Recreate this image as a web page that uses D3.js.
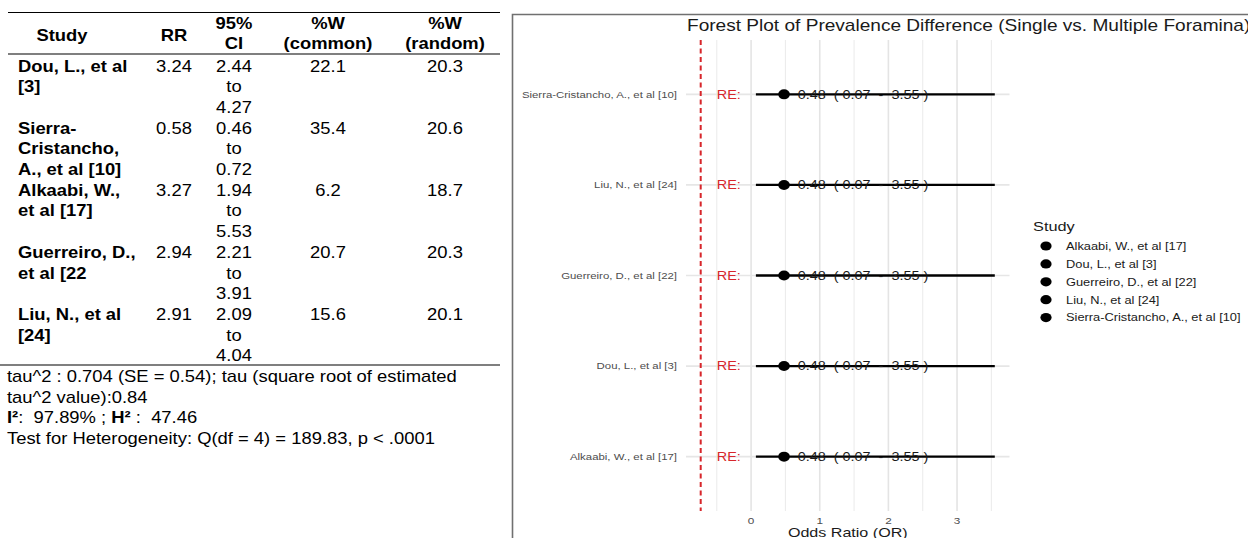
<!DOCTYPE html>
<html>
<head>
<meta charset="utf-8">
<script src="https://cdn.jsdelivr.net/npm/d3@7"></script>
<style>
  html, body { margin: 0; padding: 0; background: #fff; }
  svg { display: block; }
  text { font-family: "Liberation Sans", Arial, Helvetica, sans-serif; white-space: pre; }
</style>
</head>
<body>
<svg id="chart" width="1248" height="538"></svg>
<script>
// ---- Study table ----
const studyLines = [
  ["Dou, L., et al", "[3]"],
  ["Sierra-", "Cristancho,", "A., et al [10]"],
  ["Alkaabi, W.,", "et al [17]"],
  ["Guerreiro, D.,", "et al [22"],
  ["Liu, N., et al", "[24]"]
];
const rr = [3.24, 0.58, 3.27, 2.94, 2.91];
const ciLow = [2.44, 0.46, 1.94, 2.21, 2.09];
const ciHigh = [4.27, 0.72, 5.53, 3.91, 4.04];
const weightCommon = [22.1, 35.4, 6.2, 20.7, 15.6];
const weightRandom = [20.3, 20.6, 18.7, 20.3, 20.1];

// ---- Heterogeneity summary ----
const tau2 = 0.704, tau2SE = 0.54, tau = 0.84;
const i2 = 97.89, h2 = 47.46;
const qDf = 4, qStat = 189.83, qP = ".0001";

// ---- Forest plot (random-effects pooled estimate per study row) ----
const plotStudies = [
  "Alkaabi, W., et al [17]",
  "Dou, L., et al [3]",
  "Guerreiro, D., et al [22]",
  "Liu, N., et al [24]",
  "Sierra-Cristancho, A., et al [10]"
];
const reEstimate = [0.48, 0.48, 0.48, 0.48, 0.48];
const reLower = [0.07, 0.07, 0.07, 0.07, 0.07];
const reUpper = [3.55, 3.55, 3.55, 3.55, 3.55];
const xTicks = [0, 1, 2, 3];
const pooledOR = 0.48;

const svg = d3.select("#chart");
const f2 = d3.format(".2f");

// text helper with horizontal stretch around its anchor point
function label(g, x, y, str, o = {}) {
  return g.append("text")
    .attr("transform", `translate(${x},${y}) scale(${o.sx || 1},1)`)
    .attr("text-anchor", o.anchor || "start")
    .attr("font-size", o.size || 15)
    .attr("font-weight", o.weight || "normal")
    .attr("fill", o.fill || "#000")
    .text(str);
}

// ================= Table =================
const T = svg.append("g");
const tsx = 1.15, tfs = 16;
const col = { study: 18, rr: 174, ci: 234, wc: 328, wr: 445 };

T.append("line").attr("x1", 8).attr("x2", 500).attr("y1", 12.5).attr("y2", 12.5).attr("stroke", "#000").attr("stroke-width", 1.2);
T.append("line").attr("x1", 8).attr("x2", 500).attr("y1", 54).attr("y2", 54).attr("stroke", "#000").attr("stroke-width", 1.2);

const hb = { sx: tsx, size: tfs, weight: "bold", anchor: "middle" };
label(T, 62, 40.5, "Study", hb);
label(T, col.rr, 40.5, "RR", hb);
label(T, col.ci, 28.5, "95%", hb);
label(T, col.ci, 48.5, "CI", hb);
label(T, col.wc, 28.5, "%W", hb);
label(T, col.wc, 48.5, "(common)", hb);
label(T, col.wr, 28.5, "%W", hb);
label(T, col.wr, 48.5, "(random)", hb);

const lineH = 20.67, firstBase = 71.8;
studyLines.forEach((lines, i) => {
  const y0 = firstBase + i * 3 * lineH;
  lines.forEach((s, j) => label(T, col.study, y0 + j * lineH, s, { sx: tsx, size: tfs, weight: "bold" }));
  const c = { sx: tsx, size: tfs, anchor: "middle" };
  label(T, col.rr, y0, f2(rr[i]), c);
  label(T, col.ci, y0, f2(ciLow[i]), c);
  label(T, col.ci, y0 + lineH, "to", c);
  label(T, col.ci, y0 + 2 * lineH, f2(ciHigh[i]), c);
  label(T, col.wc, y0, weightCommon[i].toFixed(1), c);
  label(T, col.wr, y0, weightRandom[i].toFixed(1), c);
});

T.append("line").attr("x1", 0).attr("x2", 500).attr("y1", 365).attr("y2", 365).attr("stroke", "#000").attr("stroke-width", 1.2);

const fo = { sx: tsx, size: tfs };
label(T, 7, 382, `tau^2 : ${tau2} (SE = ${tau2SE}); tau (square root of estimated`, fo);
label(T, 7, 402.5, `tau^2 value):${tau}`, fo);
const iLine = label(T, 7, 423, "", fo);
iLine.append("tspan").attr("font-weight", "bold").text("I²");
iLine.append("tspan").text(`:  ${i2}% ; `);
iLine.append("tspan").attr("font-weight", "bold").text("H²");
iLine.append("tspan").text(` :  ${h2}`);
label(T, 7, 444, `Test for Heterogeneity: Q(df = ${qDf}) = ${qStat}, p < ${qP}`, fo);

// ================= Forest plot =================
const P = svg.append("g");
const psx = 1.2;

// frame around the plot image
P.append("path")
  .attr("d", "M512.5,545 V14.5 H1260")
  .attr("fill", "none").attr("stroke", "#707070").attr("stroke-width", 1.6);

const lo = Math.min(Math.log(pooledOR), d3.min(reLower));
const hi = d3.max(reUpper);
const pad = (hi - lo) * 0.05;
const x = d3.scaleLinear().domain([lo - pad, hi + pad]).range([686, 1009.5]);
const yTop = 40, yBot = 511;
const y = d3.scalePoint().domain(plotStudies).range([yBot, yTop]).padding(0.6);

// grid
const minor = d3.range(Math.ceil((lo - pad) * 2) / 2, hi + pad, 0.5).filter(v => !Number.isInteger(v));
P.append("g").selectAll("line").data(minor).join("line")
  .attr("x1", d => x(d)).attr("x2", d => x(d)).attr("y1", yTop).attr("y2", yBot)
  .attr("stroke", "#ececec").attr("stroke-width", 1.1);
P.append("g").selectAll("line").data(xTicks).join("line")
  .attr("x1", d => x(d)).attr("x2", d => x(d)).attr("y1", yTop).attr("y2", yBot)
  .attr("stroke", "#e4e4e4").attr("stroke-width", 1.6);
P.append("g").selectAll("line").data(plotStudies).join("line")
  .attr("x1", x.range()[0]).attr("x2", x.range()[1]).attr("y1", d => y(d)).attr("y2", d => y(d))
  .attr("stroke", "#e6e6e6").attr("stroke-width", 1.6);

// pooled estimate reference (log scale)
P.append("line")
  .attr("x1", x(Math.log(pooledOR))).attr("x2", x(Math.log(pooledOR)))
  .attr("y1", yTop).attr("y2", yBot)
  .attr("stroke", "#d7262b").attr("stroke-width", 2).attr("stroke-dasharray", "5,3.5");

// rows
const rows = P.append("g").selectAll("g").data(plotStudies).join("g");
rows.append("line")
  .attr("x1", (d, i) => x(reLower[i])).attr("x2", (d, i) => x(reUpper[i]))
  .attr("y1", d => y(d)).attr("y2", d => y(d))
  .attr("stroke", "#000").attr("stroke-width", 2.3);
rows.append("ellipse")
  .attr("cx", (d, i) => x(reEstimate[i])).attr("cy", d => y(d))
  .attr("rx", 5.8).attr("ry", 5).attr("fill", "#000");
rows.each(function (d, i) {
  const g = d3.select(this);
  label(g, x(-0.5), y(d) + 4.3, "RE:", { sx: psx, size: 12, fill: "#d7262b" });
  label(g, x(reEstimate[i] + 0.2), y(d) + 4.3,
    `${f2(reEstimate[i])}  ( ${f2(reLower[i])}  -  ${f2(reUpper[i])} )`,
    { sx: psx, size: 12, fill: "#1a1a1a" });
  label(g, 677, y(d) + 3.3, d, { sx: psx, size: 9.5, fill: "#4d4d4d", anchor: "end" });
});

// x axis
xTicks.forEach(t => label(P, x(t), 523.5, String(t), { sx: psx, size: 9.8, fill: "#4d4d4d", anchor: "middle" }));
label(P, (x.range()[0] + x.range()[1]) / 2, 536.5, "Odds Ratio (OR)", { sx: psx, size: 13.4, fill: "#1a1a1a", anchor: "middle" });

// title
label(P, 687, 30.5, "Forest Plot of Prevalence Difference (Single vs. Multiple Foramina)", { sx: psx, size: 15.9, fill: "#1a1a1a" });

// legend
const L = P.append("g");
label(L, 1033, 231, "Study", { sx: psx, size: 13.6, fill: "#1a1a1a" });
plotStudies.forEach((s, i) => {
  const cy = 246 + i * 17.9;
  L.append("ellipse").attr("cx", 1046).attr("cy", cy).attr("rx", 5.6).attr("ry", 4.6).attr("fill", "#000");
  label(L, 1066, cy + 3.8, s, { sx: psx, size: 10.7, fill: "#1a1a1a" });
});
</script>
</body>
</html>
